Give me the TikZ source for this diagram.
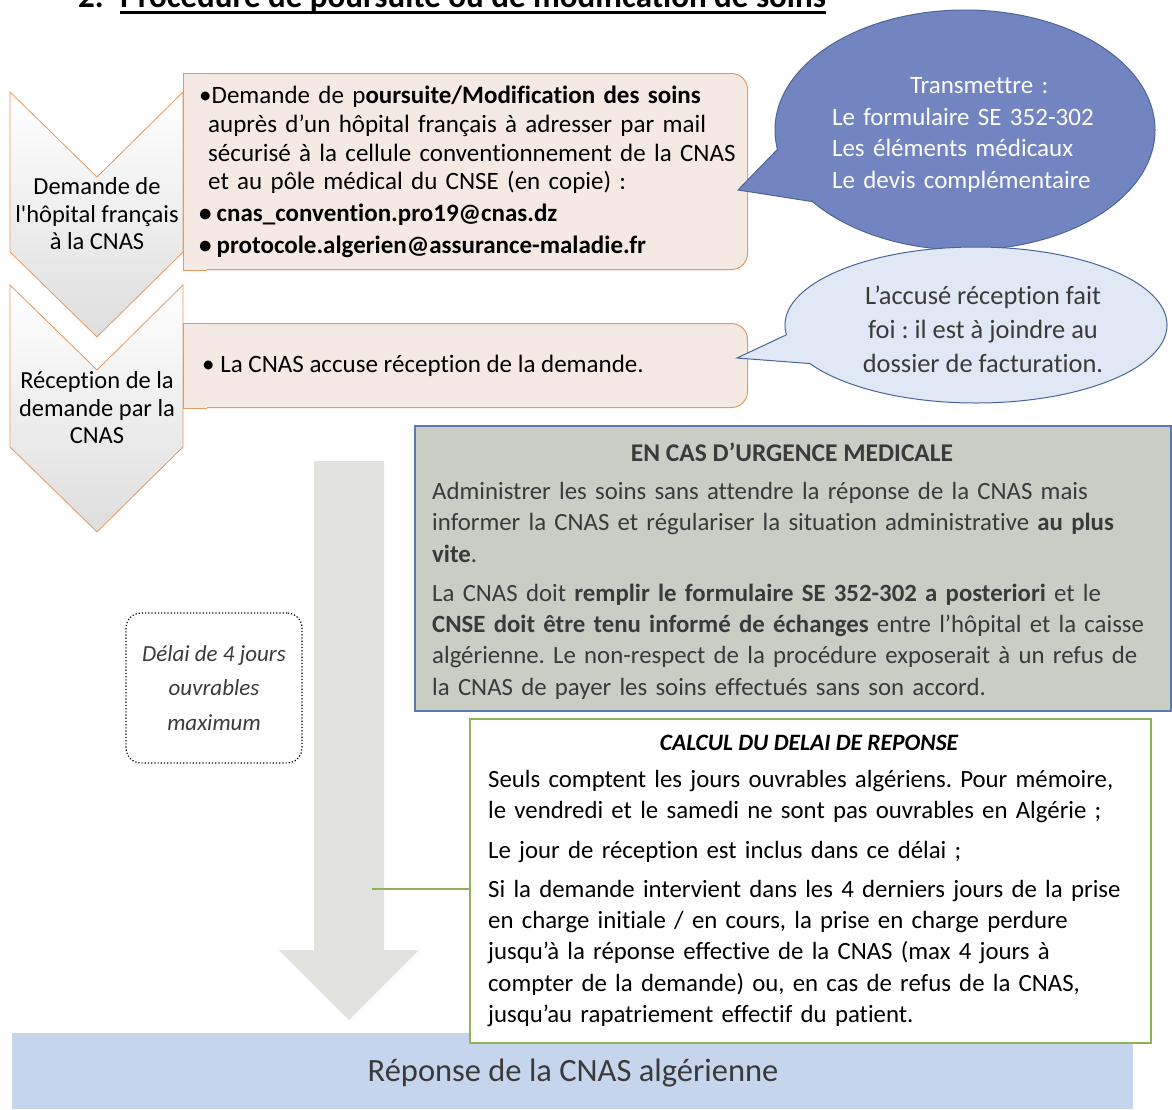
\documentclass[tikz,border=0pt]{standalone}
\usepackage{fontspec}
\setmainfont{Carlito}[Ligatures={TeX,NoCommon}]
\usetikzlibrary{calc}
\usetikzlibrary{shapes.geometric}

\definecolor{chevline}{HTML}{E39A63}
\definecolor{salmon}{HTML}{F5E9E4}
\definecolor{bubbleblue}{HTML}{7385C1}
\definecolor{bubbleline}{HTML}{4A659A}
\definecolor{paleblue}{HTML}{DFE8F4}
\definecolor{urgfill}{HTML}{C9CDC4}
\definecolor{urgline}{HTML}{5A7AAE}
\definecolor{calcgreen}{HTML}{8DB356}
\definecolor{shaftgray}{HTML}{E2E3DE}
\definecolor{bandblue}{HTML}{C5D6EC}
\definecolor{inkgray}{HTML}{3A3A3A}

\newcommand\bodyfont{\fontsize{25}{28.7}\selectfont}
\newcommand\widebody{\fontsize{24.8}{31.3}\selectfont}
\frenchspacing

\begin{document}
\begin{tikzpicture}[x=1pt, y=-1pt,
  chevron/.style={draw=chevline, line width=0.8pt, top color=white, middle color=white, bottom color=black!13},
  chevtext/.style={align=center, inner sep=0, font=\fontsize{24.5}{27.5}\selectfont},
  stepbox/.style={draw=chevline, fill=salmon, line width=1pt, rounded corners=16, anchor=north west, inner sep=0},
  bubble/.style={ellipse, draw=bubbleline, line width=1pt, inner sep=0},
  urgbox/.style={draw=urgline, fill=urgfill, line width=2pt, anchor=north west, inner sep=0},
  calcbox/.style={draw=calcgreen, fill=white, line width=2pt, anchor=north west, inner sep=0},
  delaybox/.style={draw=black, dotted, line width=1.2pt, rounded corners=15, fill=white, align=center,
    minimum width=176, minimum height=150, text=inkgray, font=\itshape\fontsize{23}{34.5}\selectfont}]
  \useasboundingbox (0,0) rectangle (1172,1109);

  % title, only its lower edge shows
  \begin{scope}
    \clip (0,0) rectangle (1172,20);
    \node[anchor=base west, inner sep=0, font=\bfseries\fontsize{33}{38}\selectfont] (num) at (78,7) {2.};
    \node[anchor=base west, inner sep=0, font=\bfseries\fontsize{33}{38}\selectfont] (head) at (120,7) {Procédure de poursuite ou de modification de soins};
    \draw[line width=3pt] ($(head.base west)+(0,5.5)$) -- ($(head.base east)+(0,5.5)$);
  \end{scope}

  % steps on the left
  \shadedraw[chevron] (10,92) -- (97,177) -- (183,92) -- (183,252) -- (97,337) -- (10,252) -- cycle;
  \shadedraw[chevron] (10,285) -- (97,370) -- (183,285) -- (183,447) -- (97,532) -- (10,447) -- cycle;
  \node[chevtext] (askStep) at (97,214) {Demande de\\l\textquotesingle hôpital français\\à la CNAS};
  \node[chevtext] (ackStep) at (97,408) {Réception de la\\demande par la\\CNAS};

  % salmon boxes, square on the left
  \node[stepbox, minimum width=564, minimum height=196] (askBox) at (183,73) {};
  \fill[salmon] (askBox.north west) rectangle ($(askBox.south west)+(24,0)$);
  \draw[chevline, line width=1pt] ($(askBox.north west)+(24,0)$) -- (askBox.north west) -- (askBox.south west) -- ($(askBox.south west)+(24,0)$);
  \node[stepbox, minimum width=564, minimum height=84] (ackBox) at (183,323) {};
  \fill[salmon] (ackBox.north west) rectangle ($(ackBox.south west)+(24,0)$);
  \draw[chevline, line width=1pt] ($(ackBox.north west)+(24,0)$) -- (ackBox.north west) -- (ackBox.south west) -- ($(ackBox.south west)+(24,0)$);

  \node[anchor=north west, text width=545, align=left, inner sep=0, font=\bodyfont] (askTxt) at (199,86) {%
    \textbullet Demande de p\textbf{oursuite/Modification des soins}\\
    \hspace*{9pt}auprès d’un hôpital français à adresser par mail\\
    \hspace*{9pt}sécurisé à la cellule conventionnement de la CNAS\\
    \hspace*{9pt}et au pôle médical du CNSE (en copie) :\\[3pt]
    \textbf{\textbullet\kern5pt cnas\_convention.pro19@cnas.dz}\\[3pt]
    \textbf{\textbullet\kern5pt protocole.algerien@assurance-maladie.fr}};
  \node[anchor=west, inner sep=0, font=\bodyfont] (ackTxt) at (202,366) {\textbullet\ La CNAS accuse réception de la demande.};

  % speech bubbles
  \node[bubble, fill=bubbleblue, minimum width=380, minimum height=240] (sendBub) at (965,130) {};
  \coordinate (sendTip) at (738,190);
  \fill[bubbleblue] (sendBub.186) -- (sendTip) -- (sendBub.205) -- ($(sendBub.center)!0.9!(sendBub.195)$) -- cycle;
  \draw[bubbleline, line width=1pt] (sendBub.186) -- (sendTip) -- (sendBub.205);
  \node[text=white, text width=268, align=left, inner sep=0, font=\fontsize{25}{31.5}\selectfont] (sendTxt) at (966,135) {%
    \hspace*{78pt}Transmettre :\\
    Le formulaire SE 352-302\\Les éléments médicaux\\Le devis complémentaire};

  \node[bubble, fill=paleblue, minimum width=382, minimum height=156] (ackBub) at (976,325) {};
  \coordinate (ackTip) at (737,358);
  \fill[paleblue] (ackBub.183) -- (ackTip) -- (ackBub.193) -- ($(ackBub.center)!0.88!(ackBub.188)$) -- cycle;
  \draw[bubbleline, line width=1pt] (ackBub.183) -- (ackTip) -- (ackBub.193);
  \node[align=center, inner sep=0, text=inkgray, font=\fontsize{26.4}{34}\selectfont] (ackNote) at (983,329) {L’accusé réception fait\\foi : il est à joindre au\\dossier de facturation.};

  % big grey arrow
  \fill[shaftgray] (314,461) -- (384,461) -- (384,950) -- (419,950) -- (349,1020) -- (279,950) -- (314,950) -- cycle;
  \coordinate (shaftHook) at (372,889);

  \node[delaybox] (delay) at (214,688) {Délai de 4 jours\\ouvrables\\maximum};

  % urgent case
  \node[urgbox, minimum width=756, minimum height=285] (urgent) at (414,425) {};
  \node[anchor=base, inner sep=0, text=inkgray, font=\bfseries\fontsize{25.5}{31}\selectfont] (urgHead) at (792,461) {EN CAS D’URGENCE MEDICALE};
  \node[anchor=north west, text width=735, align=left, inner sep=0, text=inkgray, font=\widebody] (urgTxt) at (432,482) {%
    Administrer les soins sans attendre la réponse de la CNAS mais\\
    informer la CNAS et régulariser la situation administrative \textbf{au plus}\\
    \textbf{vite}.\\[8pt]
    La CNAS doit \textbf{remplir le formulaire SE 352-302 a posteriori} et le\\
    \textbf{CNSE doit être tenu informé de échanges} entre l’hôpital et la caisse\\
    algérienne. Le non-respect de la procédure exposerait à un refus de\\
    la CNAS de payer les soins effectués sans son accord.};

  % answer band
  \node[anchor=north west, fill=bandblue, minimum width=1121, minimum height=76, inner sep=0] (reply) at (12,1033) {};
  \node[inner sep=0, text=inkgray, font=\fontsize{32.5}{38}\selectfont] (replyTxt) at (573,1073) {Réponse de la CNAS algérienne};

  % delay computation
  \node[calcbox, minimum width=681, minimum height=324] (delayCalc) at (469,718) {};
  \draw[calcgreen, line width=2pt] (shaftHook) -- (shaftHook -| delayCalc.west);
  \node[anchor=base, inner sep=0, text=black, font=\bfseries\itshape\fontsize{23.5}{28}\selectfont] (calcHead) at (809,750) {CALCUL DU DELAI DE REPONSE};
  \node[anchor=north west, text width=660, align=left, inner sep=0, font=\widebody] (calcTxt) at (488,770) {%
    Seuls comptent les jours ouvrables algériens. Pour mémoire,\\
    le vendredi et le samedi ne sont pas ouvrables en Algérie ;\\[8pt]
    Le jour de réception est inclus dans ce délai ;\\[8pt]
    Si la demande intervient dans les 4 derniers jours de la prise\\
    en charge initiale / en cours, la prise en charge perdure\\
    jusqu’à la réponse effective de la CNAS (max 4 jours à\\
    compter de la demande) ou, en cas de refus de la CNAS,\\
    jusqu’au rapatriement effectif du patient.};
\end{tikzpicture}
\end{document}
